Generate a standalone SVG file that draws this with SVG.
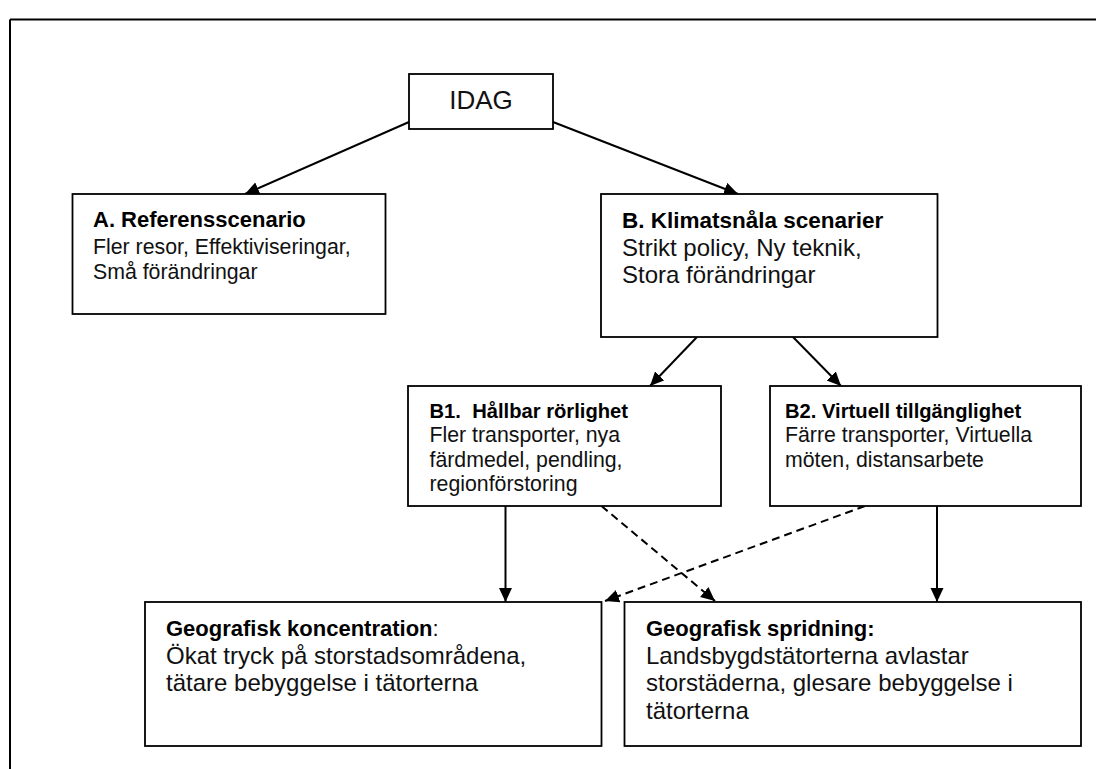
<svg xmlns="http://www.w3.org/2000/svg" width="1096" height="769" viewBox="0 0 1096 769">
<style>
.box{fill:#fff;stroke:#000;stroke-width:1.8}
.t{font-family:"Liberation Sans",Arial,sans-serif;fill:#111}
.b{font-weight:bold;fill:#000}
.conn{stroke:#000;stroke-width:2;fill:none}
.dash{stroke-dasharray:8 5}
.frame{stroke:#000;stroke-width:2;fill:none}
</style>
<defs>
<marker id="ah" markerUnits="userSpaceOnUse" markerWidth="15" markerHeight="14" refX="14" refY="6.5" orient="auto">
<path d="M0,0 L14,6.5 L0,13 Z" fill="#000"/>
</marker>
</defs>
<rect width="1096" height="769" fill="#fff"/>
<path class="frame" d="M10,19.5 H1096 M10,19.5 V769"/>
<g id="connectors">
<line class="conn" x1="409" y1="122" x2="245" y2="194" marker-end="url(#ah)"/>
<line class="conn" x1="553" y1="122" x2="738" y2="194" marker-end="url(#ah)"/>
<line class="conn" x1="697" y1="337" x2="650" y2="386" marker-end="url(#ah)"/>
<line class="conn" x1="793" y1="337" x2="841" y2="386" marker-end="url(#ah)"/>
<line class="conn" x1="505.5" y1="506" x2="505.5" y2="602" marker-end="url(#ah)"/>
<line class="conn" x1="937" y1="506" x2="937" y2="602" marker-end="url(#ah)"/>
<line class="conn dash" x1="601.5" y1="506" x2="715" y2="601" marker-end="url(#ah)"/>
<line class="conn dash" x1="865" y1="506" x2="605" y2="601" marker-end="url(#ah)"/>
</g>
<g id="idag">
<rect class="box" x="409" y="74" width="144" height="55"/>
<text class="t" x="481" y="109" font-size="26" text-anchor="middle" fill="#000">IDAG</text>
</g>
<g id="a">
<rect class="box" x="72.5" y="194" width="313" height="120"/>
<text class="t b" x="93" y="227" font-size="22">A. Referensscenario</text>
<text class="t" x="93" y="254" font-size="21.3">Fler resor, Effektiviseringar,</text>
<text class="t" x="93" y="278.5" font-size="21.3">Små förändringar</text>
</g>
<g id="b">
<rect class="box" x="601" y="194" width="336.5" height="143"/>
<text class="t b" x="622" y="228" font-size="22.5">B. Klimatsnåla scenarier</text>
<text class="t" x="622" y="256" font-size="24">Strikt policy, Ny teknik,</text>
<text class="t" x="622" y="282.5" font-size="24">Stora förändringar</text>
</g>
<g id="b1">
<rect class="box" x="408" y="386" width="313" height="120"/>
<text class="t b" x="429.5" y="417.5" font-size="20.2" style="white-space:pre">B1.  Hållbar rörlighet</text>
<text class="t" x="429.5" y="442" font-size="21.3">Fler transporter, nya</text>
<text class="t" x="429.5" y="466.5" font-size="21.3">färdmedel, pendling,</text>
<text class="t" x="429.5" y="491" font-size="21.3">regionförstoring</text>
</g>
<g id="b2">
<rect class="box" x="770" y="386" width="311" height="120"/>
<text class="t b" x="785" y="417.5" font-size="20.2">B2. Virtuell tillgänglighet</text>
<text class="t" x="785" y="442" font-size="21.3">Färre transporter, Virtuella</text>
<text class="t" x="785" y="466.5" font-size="21.3">möten, distansarbete</text>
</g>
<g id="geo-k">
<rect class="box" x="145" y="602" width="456.5" height="144"/>
<text class="t" x="166" y="636" font-size="22"><tspan class="b">Geografisk koncentration</tspan>:</text>
<text class="t" x="166" y="663.5" font-size="24">Ökat tryck på storstadsområdena,</text>
<text class="t" x="166" y="691" font-size="24">tätare bebyggelse i tätorterna</text>
</g>
<g id="geo-s">
<rect class="box" x="624.5" y="602" width="456.5" height="144"/>
<text class="t b" x="646" y="636" font-size="22">Geografisk spridning:</text>
<text class="t" x="646" y="663.5" font-size="24">Landsbygdstätorterna avlastar</text>
<text class="t" x="646" y="691" font-size="24">storstäderna, glesare bebyggelse i</text>
<text class="t" x="646" y="718.5" font-size="24">tätorterna</text>
</g>
</svg>
